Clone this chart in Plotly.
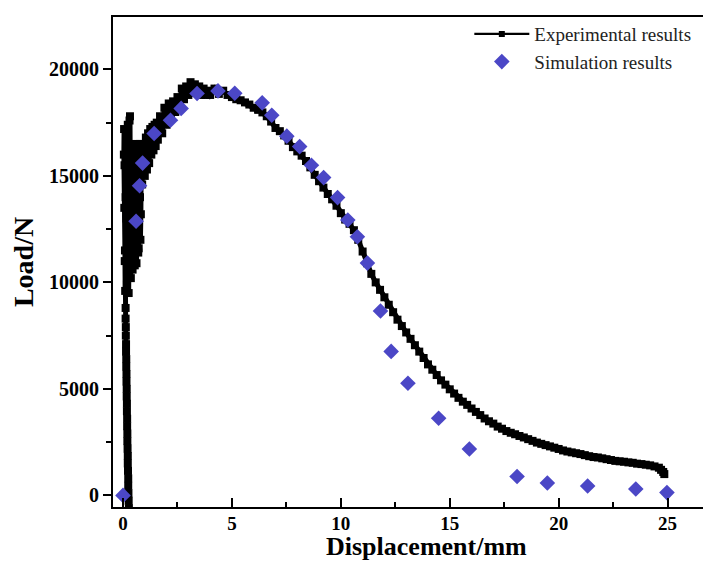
import plotly.graph_objects as go

exp_x = [0.27, 0.26, 0.25, 0.24, 0.24, 0.23, 0.22, 0.22, 0.21, 0.20, 0.20, 0.19, 0.19, 0.18, 0.18, 0.17,
         0.17, 0.16, 0.16, 0.15, 0.15, 0.14, 0.14, 0.13, 0.13, 0.12, 0.12,
         0.08, 0.06, 0.04, 0.05, 0.07, 0.09, 0.10, 0.12, 0.14, 0.16, 0.18, 0.20, 0.22, 0.24, 0.26, 0.28,
         0.30, 0.32, 0.34, 0.36, 0.38, 0.40, 0.42, 0.44, 0.46, 0.48, 0.50, 0.52, 0.54, 0.56, 0.58, 0.60,
         0.62, 0.64, 0.66, 0.68, 0.70, 0.72, 0.74, 0.76, 0.78, 0.80, 0.82, 0.84, 0.86, 0.88, 0.90, 0.93,
         0.96, 1.00, 1.05, 1.10, 1.15, 1.20, 1.25, 1.30, 1.35, 1.40, 1.45, 1.50, 1.55, 1.60, 1.70, 1.80,
         1.90, 2.00, 2.10, 2.20, 2.30, 2.40, 2.50, 2.60, 2.70, 2.80, 2.90, 3.00, 3.10, 3.20, 3.30, 3.40,
         3.50, 3.60, 3.70, 3.80, 3.90, 4.00, 4.20, 4.40, 4.60, 4.80, 5.00, 5.20, 5.40, 5.60, 5.80, 6.00,
         6.20, 6.40, 6.60, 6.80, 7.00, 7.20, 7.40, 7.60, 7.80, 8.00, 8.20, 8.40, 8.60, 8.80, 9.00, 9.20,
         9.40, 9.60, 9.80, 10.00, 10.20, 10.40, 10.60, 10.80, 11.00, 11.20, 11.40, 11.60, 11.80, 12.00,
         12.20, 12.40, 12.60, 12.80, 13.00, 13.20, 13.40, 13.60, 13.80, 14.00, 14.20, 14.40, 14.60, 14.80,
         15.00, 15.20, 15.40, 15.60, 15.80, 16.00, 16.20, 16.40, 16.60, 16.80, 17.00, 17.20, 17.40, 17.60,
         17.80, 18.00, 18.20, 18.40, 18.60, 18.80, 19.00, 19.20, 19.40, 19.60, 19.80, 20.00, 20.20, 20.40,
         20.60, 20.80, 21.00, 21.20, 21.40, 21.60, 21.80, 22.00, 22.20, 22.40, 22.60, 22.80, 23.00, 23.20,
         23.40, 23.60, 23.80, 24.00, 24.20, 24.40, 24.60, 24.70, 24.80, 24.85, 24.80]
exp_y = [-600, -250, 100, 450, 800, 1150, 1500, 1850, 2200, 2550, 2900, 3250, 3600, 3950, 4300, 4650,
         5000, 5350, 5700, 6050, 6400, 6750, 7100, 7500, 7900, 8300, 8800,
         11000, 13500, 16000, 17200, 15500, 11500, 9600, 14000, 16900, 13000, 9900, 15200, 17400, 12500,
         9500, 14800, 17600, 17800, 13600, 10200, 12800, 16400, 14500, 10600, 11800, 16200, 15600, 11000,
         10800, 14800, 16500, 13000, 10900, 12200, 16300, 15400, 11400, 11600, 15200, 16500, 14000, 12000,
         13200, 16400, 16000, 14600, 16200,
         15400, 16500, 15000, 16800, 15300, 17000, 15600, 17200, 16000, 17300, 16200, 17400, 16400, 17500,
         16700, 17800, 17000, 18200, 17400, 18400, 17700, 18500, 18000, 18700, 18300, 19100, 18600, 19200,
         18800, 19400, 18900, 19300, 18900, 19200, 18800, 19100, 18800, 19000, 18800, 19100, 18850, 19000,
         18800, 18700, 18600, 18550, 18450, 18350, 18200, 18100, 17980, 17800, 17550, 17250, 17100, 16900,
         16650, 16350, 16150, 15950, 15700, 15400, 15050, 14750, 14450, 14150, 13900, 13600, 13250, 12950,
         12750, 12450, 12000, 11450, 10900, 10400, 10000, 9650, 9300, 8950, 8600, 8250, 7950, 7650, 7350,
         7050, 6750, 6450, 6150, 5900, 5650, 5400, 5200, 4980, 4780, 4580, 4400, 4250, 4080, 3920, 3770,
         3610, 3480, 3370, 3230, 3130, 3020, 2940, 2870, 2790, 2720, 2640, 2560, 2480, 2420, 2360, 2300,
         2240, 2180, 2110, 2060, 2020, 1980, 1940, 1890, 1840, 1800, 1780, 1740, 1700, 1660, 1620, 1600,
         1580, 1550, 1530, 1490, 1470, 1440, 1410, 1360, 1300, 1200, 1100, 1000]

# Simulation results
sim_x = [0.0, 0.6, 0.76, 0.9, 1.43, 2.18, 2.67, 3.4, 4.36, 5.13, 6.39, 6.83, 7.52, 8.11, 8.65, 9.21,
         9.85, 10.32, 10.76, 11.22, 11.82, 12.31, 13.08, 14.49, 15.9, 18.09, 19.48, 21.33, 23.54, 24.97]
sim_y = [0, 12870, 14540, 15600, 16990, 17610, 18170, 18870, 18990, 18880, 18430, 17850, 16865, 16375,
         15500, 14920, 13980, 12930, 12140, 10905, 8655, 6760, 5265, 3620, 2180, 890, 580, 440, 300, 130]

x_ticks = [0, 5, 10, 15, 20, 25]
y_ticks = [0, 5000, 10000, 15000, 20000]

FONT = "Liberation Serif, Times New Roman, serif"
SIM_COLOR = "#4B47C6"

fig = go.Figure()
# data traces
fig.add_trace(go.Scatter(
    x=exp_x, y=exp_y, mode="lines+markers", name="Experimental results", showlegend=False,
    line=dict(color="black", width=5),
    marker=dict(symbol="square", size=8, color="black"),
))
fig.add_trace(go.Scatter(
    x=sim_x, y=sim_y, mode="markers", name="Simulation results", showlegend=False,
    marker=dict(symbol="diamond", size=12, color=SIM_COLOR, line=dict(width=0)),
))
# legend entries (thin line + small square like the reference legend)
fig.add_trace(go.Scatter(
    x=[None], y=[None], mode="lines+markers", name="Experimental results",
    line=dict(color="black", width=2.2),
    marker=dict(symbol="square", size=6, color="black"),
))
fig.add_trace(go.Scatter(
    x=[None], y=[None], mode="markers", name="Simulation results",
    marker=dict(symbol="diamond", size=12, color=SIM_COLOR, line=dict(width=0)),
))

fig.update_layout(
    width=711, height=566,
    margin=dict(l=105, r=0, t=9, b=67),
    paper_bgcolor="white", plot_bgcolor="white",
    font=dict(family=FONT, color="black"),
    showlegend=True,
    legend=dict(
        x=0.588, xanchor="left", y=1.004, yanchor="top",
        bgcolor="rgba(0,0,0,0)", font=dict(family=FONT, size=19, color="#222"),
        itemwidth=55, tracegroupgap=2,
    ),
    xaxis=dict(
        range=[-0.459, 27.36], tickvals=x_ticks, ticktext=[str(v) for v in x_ticks],
        showgrid=False, zeroline=False,
        showline=True, linecolor="black", linewidth=2, mirror=True,
        ticks="inside", ticklen=9, tickwidth=2, tickcolor="black",
        minor=dict(dtick=2.5, tick0=0, ticks="inside", ticklen=5, tickwidth=1.5, tickcolor="black"),
        tickfont=dict(family=FONT, size=19, color="black", weight="bold"),
        ticklabelstandoff=-2,
        automargin=False,
    ),
    yaxis=dict(
        range=[-545, 22460], tickvals=y_ticks, ticktext=[str(v) for v in y_ticks],
        showgrid=False, zeroline=False,
        showline=True, linecolor="black", linewidth=2,
        ticks="outside", ticklen=8, tickwidth=2, tickcolor="black",
        minor=dict(dtick=2500, tick0=0, ticks="outside", ticklen=5, tickwidth=1.5, tickcolor="black"),
        tickfont=dict(family=FONT, size=20, color="black", weight="bold"),
        title=dict(text="<b>Load/N</b>", font=dict(family=FONT, size=28, color="black"), standoff=8),
        automargin=False,
    ),
    annotations=[dict(
        text="<b>Displacement/mm</b>", xref="paper", yref="paper",
        x=(418 - 105) / 606, y=(499 - 538) / 490, xanchor="center", yanchor="middle",
        showarrow=False, font=dict(family=FONT, size=26, color="black"),
    )],
)

fig.write_html("out.html")
